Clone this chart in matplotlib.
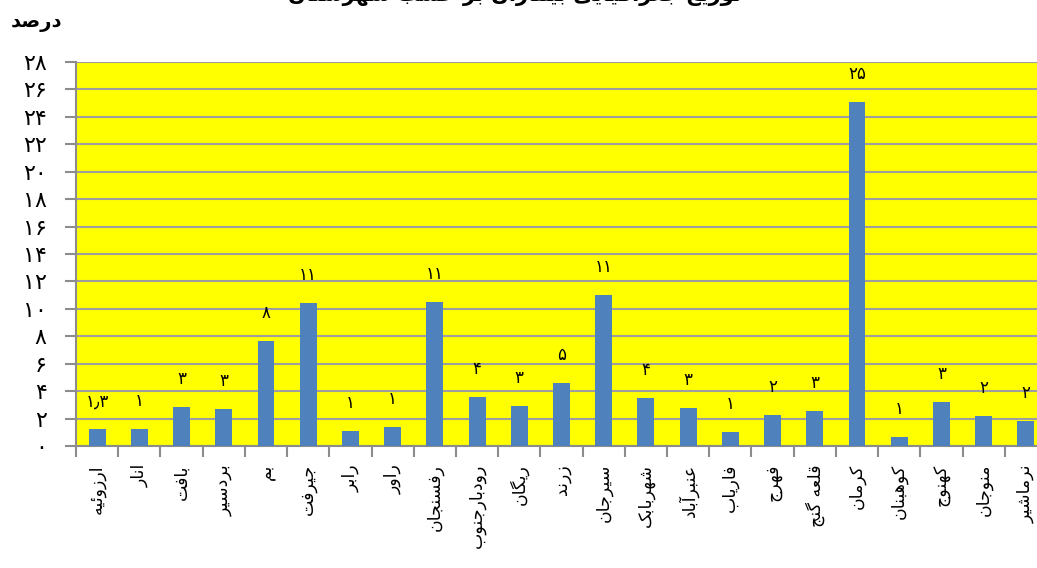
import matplotlib.pyplot as plt
import numpy as np

plt.rcParams['font.family'] = ['DejaVu Sans']

# data
cities = ['ارزوئیه', 'انار', 'بافت', 'بردسیر', 'بم', 'جیرفت', 'رابر', 'راور',
          'رفسنجان', 'رودبارجنوب', 'ریگان', 'زرند', 'سیرجان', 'شهربابک',
          'عنبرآباد', 'فاریاب', 'فهرج', 'قلعه گنج', 'کرمان', 'کوهبنان',
          'کهنوج', 'منوجان', 'نرماشیر']
bar_values = [1.22, 1.22, 2.82, 2.72, 7.69, 10.41, 1.12, 1.41, 10.51, 3.58,
              2.92, 4.6, 11.0, 3.48, 2.75, 1.04, 2.26, 2.55, 25.1, 0.68,
              3.21, 2.19, 1.80]
value_labels = ['۱٫۳', '۱', '۳', '۳', '۸', '۱۱', '۱', '۱', '۱۱', '۴', '۳', '۵',
                '۱۱', '۴', '۳', '۱', '۲', '۳', '۲۵', '۱', '۳', '۲', '۲']
y_ticks = list(range(0, 29, 2))
title = 'توزیع جغرافیایی بیماران بر حسب شهرستان'
y_label = 'درصد'

# presentation forms: (isolated, final[, initial, medial])
FORMS = {
    'ا': ('\uFE8D', '\uFE8E'),
    'آ': ('\uFE81', '\uFE82'),
    'د': ('\uFEA9', '\uFEAA'),
    'ذ': ('\uFEAB', '\uFEAC'),
    'ر': ('\uFEAD', '\uFEAE'),
    'ز': ('\uFEAF', '\uFEB0'),
    'ژ': ('\uFB8A', '\uFB8B'),
    'و': ('\uFEED', '\uFEEE'),
    'ب': ('\uFE8F', '\uFE90', '\uFE91', '\uFE92'),
    'پ': ('\uFB56', '\uFB57', '\uFB58', '\uFB59'),
    'ت': ('\uFE95', '\uFE96', '\uFE97', '\uFE98'),
    'ث': ('\uFE99', '\uFE9A', '\uFE9B', '\uFE9C'),
    'ج': ('\uFE9D', '\uFE9E', '\uFE9F', '\uFEA0'),
    'چ': ('\uFB7A', '\uFB7B', '\uFB7C', '\uFB7D'),
    'ح': ('\uFEA1', '\uFEA2', '\uFEA3', '\uFEA4'),
    'خ': ('\uFEA5', '\uFEA6', '\uFEA7', '\uFEA8'),
    'س': ('\uFEB1', '\uFEB2', '\uFEB3', '\uFEB4'),
    'ش': ('\uFEB5', '\uFEB6', '\uFEB7', '\uFEB8'),
    'ص': ('\uFEB9', '\uFEBA', '\uFEBB', '\uFEBC'),
    'ض': ('\uFEBD', '\uFEBE', '\uFEBF', '\uFEC0'),
    'ط': ('\uFEC1', '\uFEC2', '\uFEC3', '\uFEC4'),
    'ظ': ('\uFEC5', '\uFEC6', '\uFEC7', '\uFEC8'),
    'ع': ('\uFEC9', '\uFECA', '\uFECB', '\uFECC'),
    'غ': ('\uFECD', '\uFECE', '\uFECF', '\uFED0'),
    'ف': ('\uFED1', '\uFED2', '\uFED3', '\uFED4'),
    'ق': ('\uFED5', '\uFED6', '\uFED7', '\uFED8'),
    'ک': ('\uFB8E', '\uFB8F', '\uFB90', '\uFB91'),
    'گ': ('\uFB92', '\uFB93', '\uFB94', '\uFB95'),
    'ل': ('\uFEDD', '\uFEDE', '\uFEDF', '\uFEE0'),
    'م': ('\uFEE1', '\uFEE2', '\uFEE3', '\uFEE4'),
    'ن': ('\uFEE5', '\uFEE6', '\uFEE7', '\uFEE8'),
    'ه': ('\uFEE9', '\uFEEA', '\uFEEB', '\uFEEC'),
    'ی': ('\uFBFC', '\uFBFD', '\uFBFE', '\uFBFF'),
    'ئ': ('\uFE89', '\uFE8A', '\uFE8B', '\uFE8C'),
}


def shape(text):
    # join persian letters and put them in visual (right to left) order
    out = []
    for i, ch in enumerate(text):
        forms = FORMS.get(ch)
        if forms is None:
            out.append(ch)
            continue
        prev = text[i - 1] if i > 0 else ''
        nxt = text[i + 1] if i + 1 < len(text) else ''
        join_prev = prev in FORMS and len(FORMS[prev]) == 4
        join_next = len(forms) == 4 and nxt in FORMS
        if join_prev and join_next:
            out.append(forms[3])
        elif join_prev:
            out.append(forms[1])
        elif join_next:
            out.append(forms[2])
        else:
            out.append(forms[0])
    return ''.join(reversed(out))


def fa_digits(n):
    return str(n).translate(str.maketrans('0123456789', '۰۱۲۳۴۵۶۷۸۹'))


grey = '#8c8c8c'

fig = plt.figure(figsize=(10.37, 5.68), dpi=100)
ax = fig.add_axes([76 / 1037, 122 / 568, 971 / 1037, 384 / 568])
ax.set_facecolor('#ffff00')

x = np.arange(len(cities))
ax.bar(x, bar_values, width=0.4, color='#4f81bd', zorder=3)

for xi, v, lab in zip(x, bar_values, value_labels):
    ax.annotate(lab, (xi, v), xytext=(0, 23), textcoords='offset pixels',
                ha='center', va='baseline', fontsize=12, color='black', zorder=4)

ax.set_xlim(-0.5, len(cities) - 0.5)
ax.set_ylim(0, 28)
ax.set_yticks(y_ticks)
ax.set_yticklabels([fa_digits(t) for t in y_ticks], fontsize=16)
ax.yaxis.grid(True, color='#9e9e9e', linewidth=1.5, zorder=1)
ax.set_axisbelow(True)

ax.set_xticks(x)
ax.set_xticklabels([shape(c) for c in cities], rotation=90, fontsize=12.5,
                   va='top', ha='center')
ax.set_xticks(np.arange(-0.5, len(cities), 1), minor=True)
ax.tick_params(axis='x', which='major', length=0, pad=13)
ax.tick_params(axis='x', which='minor', length=8, width=1.5, color=grey)
ax.tick_params(axis='y', length=8, width=1.5, color=grey, pad=13)

for side in ['top', 'right']:
    ax.spines[side].set_visible(False)
for side in ['left', 'bottom']:
    ax.spines[side].set_color(grey)
    ax.spines[side].set_linewidth(1.5)

# title sits at the top edge, as in the original (mostly cut off)
fig.text(515 / 1037, 1 - 1 / 568, shape(title), ha='center', va='baseline',
         fontsize=15, fontweight='bold')
fig.text(36 / 1037, 1 - 23 / 568, shape(y_label), ha='center', va='center',
         fontsize=14, fontweight='bold')

fig.savefig('out.png', dpi=100)
